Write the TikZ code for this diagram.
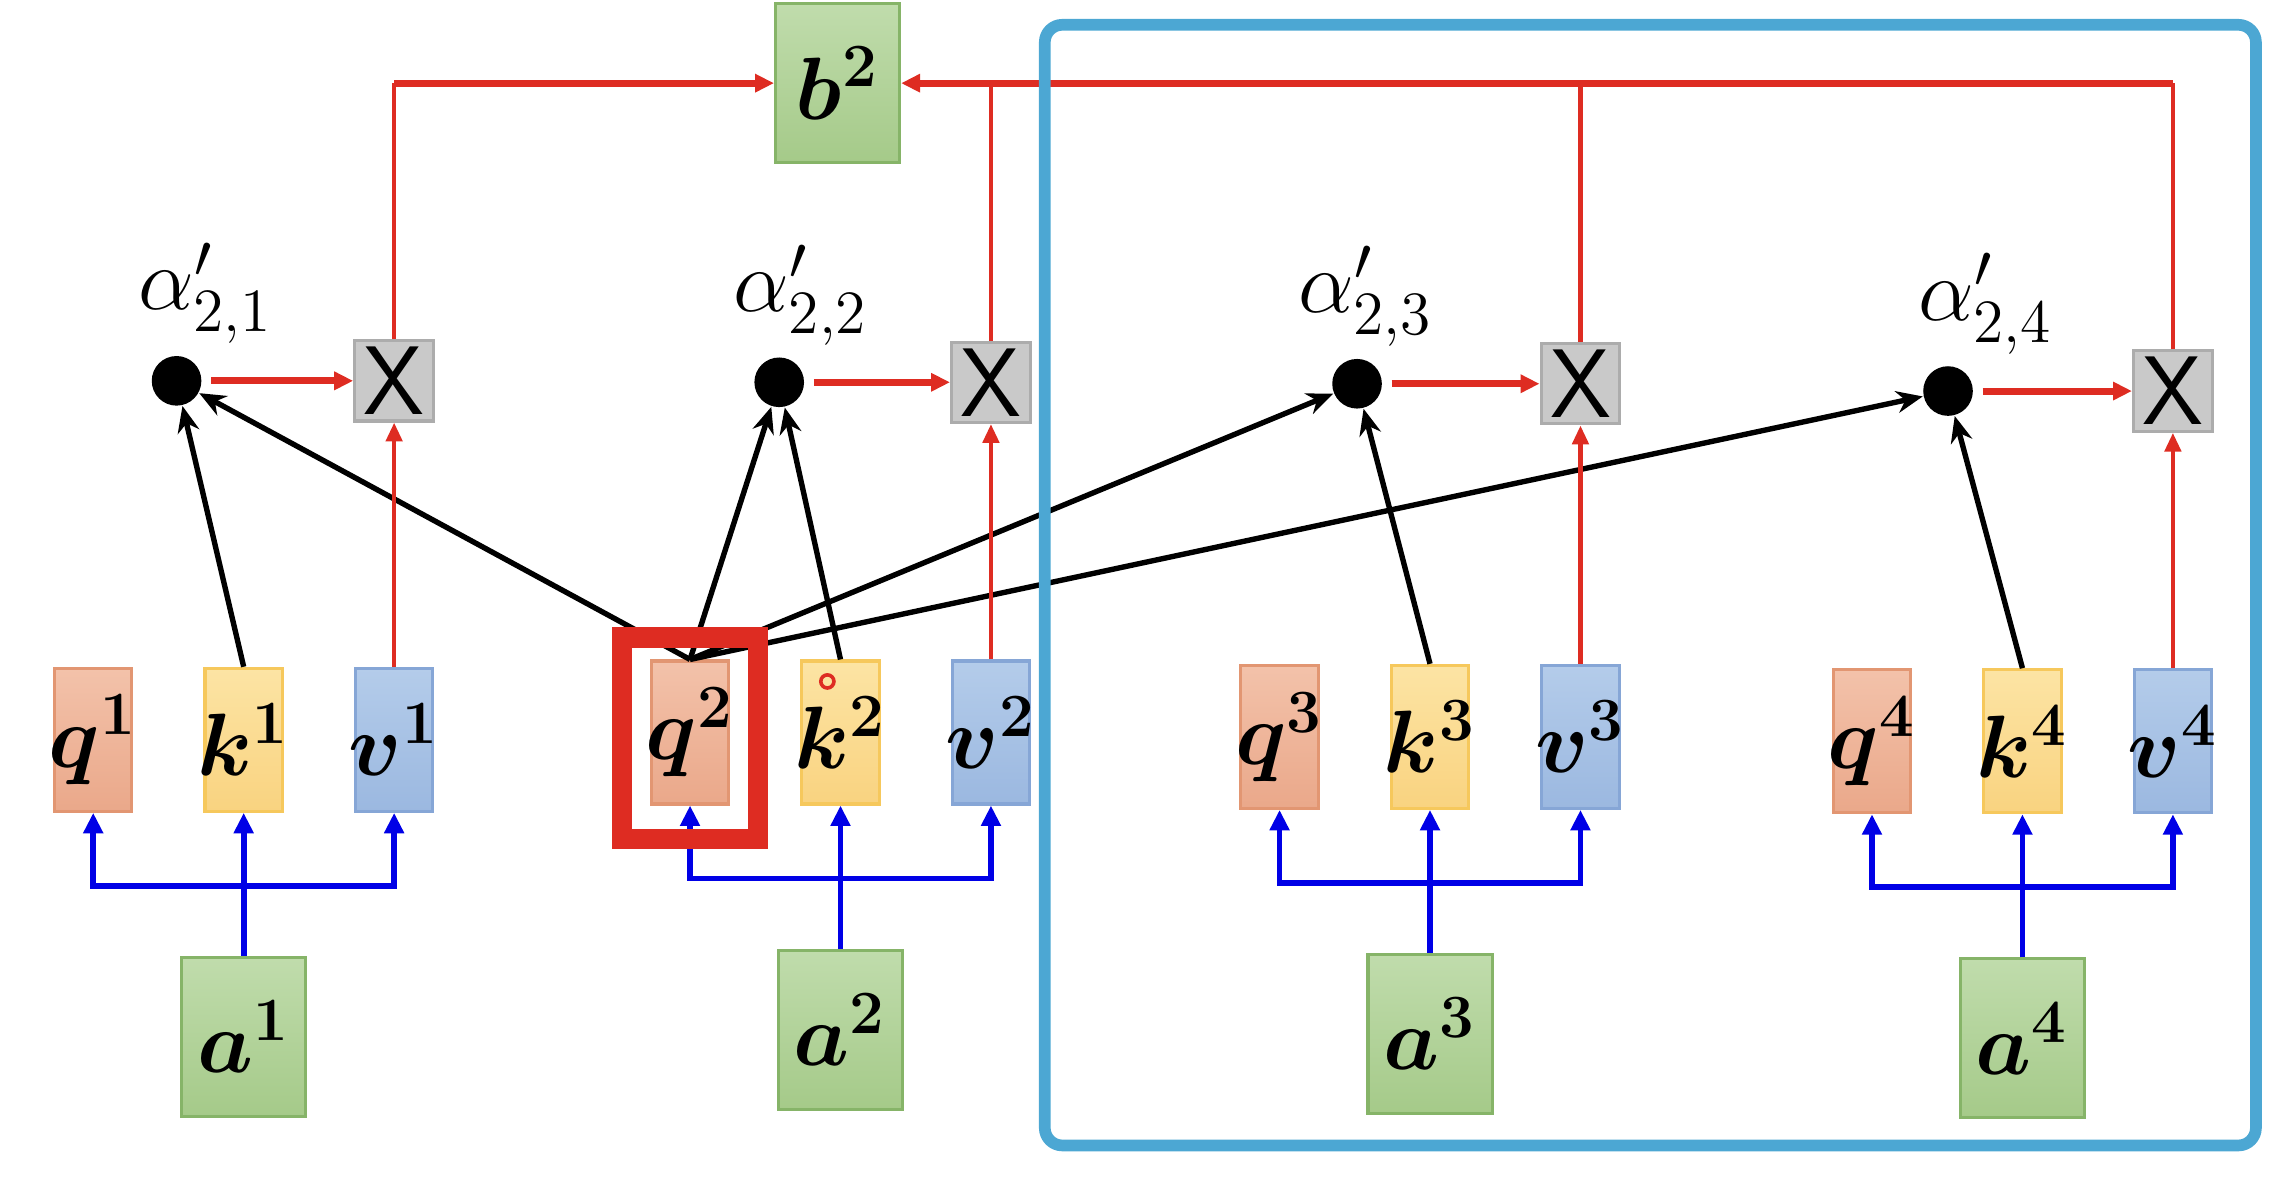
\documentclass[tikz,border=0pt]{standalone}
\usetikzlibrary{arrows.meta}
\usetikzlibrary{positioning}
\usepackage{amsmath}
\definecolor{qtop}{RGB}{243,194,170}
\definecolor{qbot}{RGB}{234,168,138}
\definecolor{qline}{RGB}{226,150,114}
\definecolor{ktop}{RGB}{252,228,164}
\definecolor{kbot}{RGB}{249,211,128}
\definecolor{kline}{RGB}{246,200,92}
\definecolor{vtop}{RGB}{180,204,234}
\definecolor{vbot}{RGB}{155,184,224}
\definecolor{vline}{RGB}{134,166,214}
\definecolor{gtop}{RGB}{192,220,172}
\definecolor{gbot}{RGB}{165,202,137}
\definecolor{gline}{RGB}{134,180,104}
\definecolor{mfill}{RGB}{201,201,201}
\definecolor{mline}{RGB}{172,172,172}
\definecolor{sumred}{RGB}{222,44,34}
\definecolor{feedblue}{RGB}{0,0,230}
\definecolor{framecyan}{RGB}{76,167,211}
\newcommand{\lbl}[1]{\makebox[0pt]{$#1$}}

\begin{document}
\begin{tikzpicture}
		[node distance=0.48cm,
		 vecbox/.style={rectangle,draw,inner sep=0pt,line width=0.6pt,font=\fontsize{17.28}{20}\selectfont\boldmath},
		 qbox/.style={vecbox,minimum width=0.53cm,minimum height=0.98cm,draw=qline,top color=qtop,bottom color=qbot},
		 kbox/.style={vecbox,minimum width=0.53cm,minimum height=0.98cm,draw=kline,top color=ktop,bottom color=kbot},
		 vbox/.style={vecbox,minimum width=0.53cm,minimum height=0.98cm,draw=vline,top color=vtop,bottom color=vbot},
		 inbox/.style={vecbox,minimum width=0.85cm,minimum height=1.09cm,draw=gline,top color=gtop,bottom color=gbot},
		 mulbox/.style={rectangle,draw=mline,fill=mfill,line width=0.6pt,minimum width=0.54cm,minimum height=0.55cm,inner sep=0pt,font=\sffamily\fontsize{19}{19}\selectfont},
		 alphadot/.style={circle,fill=black,minimum size=0.34cm,inner sep=0pt},
		 weight/.style={inner sep=0pt,font=\fontsize{16.5}{18}\selectfont},
		 feed/.style={draw=feedblue,line width=1.1pt,>={Triangle[length=0.14cm,width=0.13cm]}},
		 scorearrow/.style={->,line width=1.05pt,>={Stealth[length=0.18cm,width=0.15cm]}},
		 valarrow/.style={->,draw=sumred,line width=0.9pt,>={Triangle[length=0.13cm,width=0.11cm]}},
		 weigharrow/.style={->,draw=sumred,line width=1.35pt,shorten <=0.06cm,>={Triangle[length=0.13cm,width=0.12cm]}},
		 sumline/.style={draw=sumred,line width=0.9pt},
		 sumarrow/.style={->,draw=sumred,line width=1.35pt,>={Triangle[length=0.13cm,width=0.12cm]}},
		 select/.style={rectangle,draw=sumred,line width=0.14cm,minimum width=0.93cm,minimum height=1.38cm,inner sep=0pt},
		 frame/.style={draw=framecyan,line width=0.08cm,rounded corners=0.12cm}]

		\useasboundingbox (0,0) rectangle (15.68,8.2);

		% inputs and their q, k, v
		\node[kbox] (k1) at (1.67,3.13) {\lbl{k^{1}}};
		\node[qbox] (q1) [left=of k1] {\lbl{q^{1}}};
		\node[vbox] (v1) [right=of k1] {\lbl{v^{1}}};
		\node[inbox] (a1) [below=0.98cm of k1] {\lbl{a^{1}}};

		\node[kbox] (k2) at (5.76,3.18) {\lbl{k^{2}}};
		\node[qbox] (q2) [left=of k2] {\lbl{q^{2}}};
		\node[vbox] (v2) [right=of k2] {\lbl{v^{2}}};
		\node[inbox] (a2) [below=0.98cm of k2] {\lbl{a^{2}}};

		\node[kbox] (k3) at (9.80,3.15) {\lbl{k^{3}}};
		\node[qbox] (q3) [left=of k3] {\lbl{q^{3}}};
		\node[vbox] (v3) [right=of k3] {\lbl{v^{3}}};
		\node[inbox] (a3) [below=0.98cm of k3] {\lbl{a^{3}}};

		\node[kbox] (k4) at (13.86,3.12) {\lbl{k^{4}}};
		\node[qbox] (q4) [left=of k4] {\lbl{q^{4}}};
		\node[vbox] (v4) [right=of k4] {\lbl{v^{4}}};
		\node[inbox] (a4) [below=0.98cm of k4] {\lbl{a^{4}}};

		\draw[feed,->] (a1.north) -- (k1.south);
		\draw[feed,<->] (q1.south) -- ++(0,-0.5) -| (v1.south);
		\draw[feed,->] (a2.north) -- (k2.south);
		\draw[feed,<->] (q2.south) -- ++(0,-0.5) -| (v2.south);
		\draw[feed,->] (a3.north) -- (k3.south);
		\draw[feed,<->] (q3.south) -- ++(0,-0.5) -| (v3.south);
		\draw[feed,->] (a4.north) -- (k4.south);
		\draw[feed,<->] (q4.south) -- ++(0,-0.5) -| (v4.south);

		% attention weights
		\node[alphadot] (d1) at (1.21,5.59) {};
		\node[alphadot] (d2) at (5.34,5.58) {};
		\node[alphadot] (d3) at (9.30,5.57) {};
		\node[alphadot] (d4) at (13.35,5.52) {};
		\node[weight] (w1) [above=0.07cm of d1, xshift=0.2cm] {$\alpha'_{2,1}$};
		\node[weight] (w2) [above=0.07cm of d2, xshift=0.15cm] {$\alpha'_{2,2}$};
		\node[weight] (w3) [above=0.07cm of d3, xshift=0.06cm] {$\alpha'_{2,3}$};
		\node[weight] (w4) [above=0.07cm of d4, xshift=0.26cm] {$\alpha'_{2,4}$};

		\draw[scorearrow] (k1.north) -- (d1);
		\draw[scorearrow] (q2.north) -- (d1);
		\draw[scorearrow] (q2.north) -- (d2);
		\draw[scorearrow] (k2.north) -- (d2);
		\draw[scorearrow] (q2.north) -- (d3);
		\draw[scorearrow] (k3.north) -- (d3);
		\draw[scorearrow] (q2.north) -- (d4);
		\draw[scorearrow] (k4.north) -- (d4);

		% weighted values
		\node[mulbox] (m1) at (v1 |- d1) {X};
		\node[mulbox] (m2) at (v2 |- d2) {X};
		\node[mulbox] (m3) at (v3 |- d3) {X};
		\node[mulbox] (m4) at (v4 |- d4) {X};
		\draw[weigharrow] (d1) -- (m1.west);
		\draw[weigharrow] (d2) -- (m2.west);
		\draw[weigharrow] (d3) -- (m3.west);
		\draw[weigharrow] (d4) -- (m4.west);
		\draw[valarrow] (v1.north) -- (m1.south);
		\draw[valarrow] (v2.north) -- (m2.south);
		\draw[valarrow] (v3.north) -- (m3.south);
		\draw[valarrow] (v4.north) -- (m4.south);

		% output
		\node[inbox] (b2) at (5.74,7.63) {\lbl{b^{2}}};
		\coordinate (t1) at (m1.north |- b2.west);
		\coordinate (t2) at (m2.north |- b2.east);
		\coordinate (t3) at (m3.north |- b2.east);
		\coordinate (t4) at (m4.north |- b2.east);
		\draw[sumline] (m1.north) -- (t1);
		\draw[sumline] (m2.north) -- (t2);
		\draw[sumline] (m3.north) -- (t3);
		\draw[sumline] (m4.north) -- (t4);
		\draw[sumarrow] (t1) -- (b2.west);
		\draw[sumarrow] (t4) -- (b2.east);

		\node[select] (sel) [yshift=-0.04cm] at (q2) {};
		\node[circle,draw=sumred,line width=0.7pt,minimum size=0.09cm,inner sep=0pt] (mark) at (5.67,3.53) {};
		\draw[frame] (7.16,0.35) rectangle (15.46,8.03);
	\end{tikzpicture}
\end{document}
